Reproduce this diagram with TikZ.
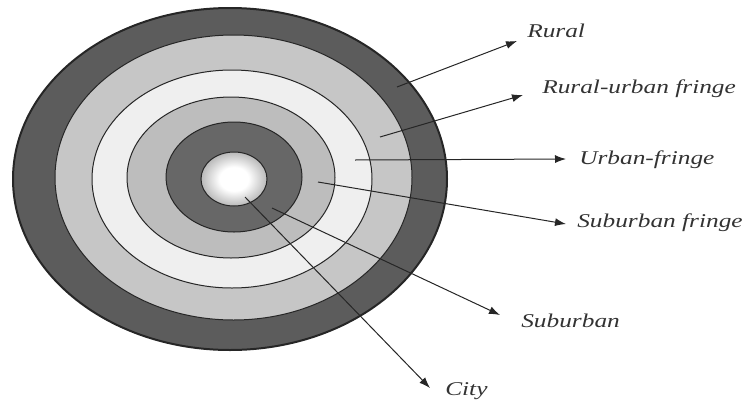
\documentclass[tikz,border=0pt]{standalone}
\usepackage{fontspec}
\setmainfont{Liberation Serif}
\usetikzlibrary{arrows.meta}
\pgfdeclareradialshading{cityglow}{\pgfpoint{0bp}{0bp}}{color(0bp)=(white); color(11bp)=(white); color(34bp)=(black!45); color(50bp)=(black!45)}
\definecolor{ringdark}{HTML}{5C5C5C}
\definecolor{ringlight}{HTML}{C6C6C6}
\definecolor{ringwhite}{HTML}{EFEFEF}
\definecolor{ringmid}{HTML}{BDBDBD}
\definecolor{ringinner}{HTML}{676767}
\definecolor{lbltext}{HTML}{333333}
\tikzset{
  ring/.style={draw=black!85, line width=1pt},
  lbl/.style={font=\fontsize{19.5}{20}\selectfont\itshape, text=lbltext, xscale=1.3, anchor=base west, inner sep=0pt},
  arr/.style={draw=black!85, line width=1pt, -{Latex[length=11pt,width=8pt]}}
}
\begin{document}
\begin{tikzpicture}[x=1pt,y=-1pt]
\useasboundingbox (0,0) rectangle (744,402);
% rings
\draw[ring, fill=ringdark, line width=2pt] (230,179) ellipse [x radius=217, y radius=171];
\draw[ring, fill=ringlight] (233.5,177.5) ellipse [x radius=178.5, y radius=142.5];
\draw[ring, fill=ringwhite] (232,179) ellipse [x radius=140, y radius=109];
\draw[ring, fill=ringmid] (231,177.5) ellipse [x radius=104, y radius=80.5];
\draw[ring, fill=ringinner] (234,177) ellipse [x radius=68, y radius=55];
\path[shading=cityglow] (234,179) ellipse [x radius=33, y radius=27];
\draw[ring] (234,179) ellipse [x radius=33, y radius=27];
% labels
\node[lbl] (rural) at (527,37) {Rural};
\node[lbl] (rufringe) at (542,93) {Rural-urban fringe};
\node[lbl] (ufringe) at (579,164) {Urban-fringe};
\node[lbl] (sfringe) at (577,227) {Suburban fringe};
\node[lbl] (suburban) at (521,327) {Suburban};
\node[lbl] (city) at (445,395) {City};
% connector ends
\coordinate (s1) at (397,87);   \coordinate (t1) at (517,41);
\coordinate (s2) at (380,137);  \coordinate (t2) at (523,95);
\coordinate (s3) at (355,160);  \coordinate (t3) at (566,159);
\coordinate (s4) at (318,182);  \coordinate (t4) at (566,224);
\coordinate (s5) at (272,208);  \coordinate (t5) at (500,315);
\coordinate (s6) at (245,197);  \coordinate (t6) at (430,388);
\draw[arr] (s1) -- (t1);
\draw[arr] (s2) -- (t2);
\draw[arr] (s3) -- (t3);
\draw[arr] (s4) -- (t4);
\draw[arr] (s5) -- (t5);
\draw[arr] (s6) -- (t6);
\end{tikzpicture}
\end{document}
